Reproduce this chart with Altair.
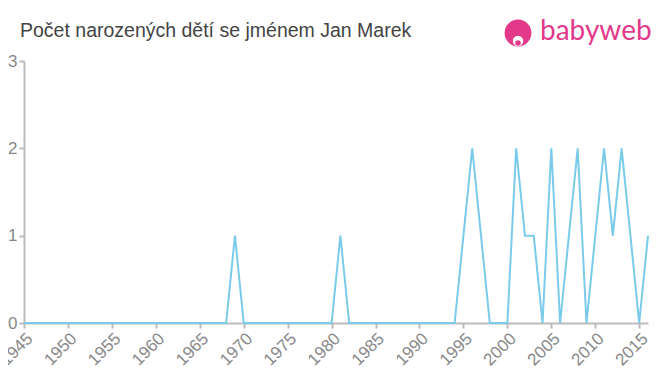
import altair as alt
import pandas as pd

years = list(range(1945, 2017))
nonzero = {1969: 1, 1981: 1, 1995: 1, 1996: 2, 1997: 1, 2001: 2, 2002: 1, 2003: 1,
           2005: 2, 2007: 1, 2008: 2, 2010: 1, 2011: 2, 2012: 1, 2013: 2, 2014: 1, 2016: 1}
counts = [nonzero.get(y, 0) for y in years]
x_ticks = list(range(1945, 2016, 5))
y_ticks = [0, 1, 2, 3]

df = pd.DataFrame({"rok": years, "pocet": counts})
one = pd.DataFrame({"k": [0]})

FONT = "Liberation Sans"
PINK = "#e2398a"

line = alt.Chart(df).mark_line(color="#7acbea", strokeWidth=2, clip=False).encode(
    x=alt.X("rok:Q", scale=alt.Scale(domain=[1945, 2016], nice=False, zero=False),
            axis=alt.Axis(values=x_ticks, format="d", labelAngle=-45, title=None, grid=False,
                          labelFontSize=17, labelColor="#888888", labelFont=FONT,
                          domainColor="#bbbbbb", tickColor="#bbbbbb", tickSize=5,
                          domainWidth=2, tickWidth=2,
                          labelAlign="right", labelBaseline="top", labelPadding=2,
                          labelOverlap=False)),
    y=alt.Y("pocet:Q", scale=alt.Scale(domain=[0, 3], nice=False),
            axis=alt.Axis(values=y_ticks, title=None, grid=False, labelFontSize=17,
                          labelColor="#888888", labelFont=FONT,
                          domainColor="#bbbbbb", tickColor="#bbbbbb", tickSize=5,
                          domainWidth=2, tickWidth=2, labelPadding=2)),
)

title = alt.Chart(one).mark_text(text="Počet narozených dětí se jménem Jan Marek", align="left",
                                 baseline="alphabetic", fontSize=19.5, font=FONT,
                                 fontWeight="normal", color="#444444").encode(
    x=alt.value(-4), y=alt.value(-24))

logo_text = alt.Chart(one).mark_text(text="babyweb", align="left", baseline="alphabetic",
                                     fontSize=28, font="Lato", color=PINK).encode(
    x=alt.value(516), y=alt.value(-21))
logo_circle = alt.Chart(one).mark_circle(color=PINK, opacity=1, size=720).encode(
    x=alt.value(494), y=alt.value(-28))
logo_face = alt.Chart(one).mark_circle(color="white", opacity=1, size=110).encode(
    x=alt.value(494), y=alt.value(-20))
logo_mouth = alt.Chart(one).mark_circle(color=PINK, opacity=1, size=30).encode(
    x=alt.value(494), y=alt.value(-18))

chart = alt.layer(line, title, logo_circle, logo_face, logo_mouth, logo_text).properties(
    width=624, height=262,
    autosize=alt.AutoSizeParams(type="none"),
    padding={"left": 16, "top": 53, "right": 4, "bottom": 70},
).configure_view(stroke=None)

chart.save("out.html", embed_options={"renderer": "svg", "actions": False})
